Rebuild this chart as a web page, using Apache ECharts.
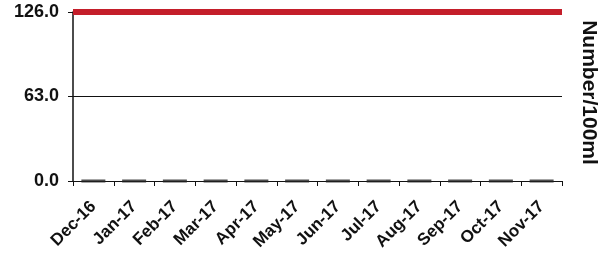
<!DOCTYPE html>
<html>
<head>
<meta charset="utf-8">
<script src="https://cdn.jsdelivr.net/npm/echarts@6/dist/echarts.min.js"></script>
<style>
  html, body { margin: 0; padding: 0; background: #fff; }
  #main { width: 605px; height: 257px; }
</style>
</head>
<body>
<div id="main"></div>
<script>
// 月份
const months = ['Dec-16', 'Jan-17', 'Feb-17', 'Mar-17', 'Apr-17', 'May-17',
  'Jun-17', 'Jul-17', 'Aug-17', 'Sep-17', 'Oct-17', 'Nov-17'];
// 每月检测结果（都为 0）
const counts = [0, 0, 0, 0, 0, 0, 0, 0, 0, 0, 0, 0];
// 限值线
const limit = 126;
// y 轴刻度
const yTicks = [0, 63, 126];

const chart = echarts.init(document.getElementById('main'));

const option = {
  animation: false,
  grid: { left: 73, right: 43, top: 12, bottom: 76, outerBoundsMode: 'none', containLabel: false },
  xAxis: {
    type: 'category',
    data: months,
    boundaryGap: true,
    axisLine: { lineStyle: { color: '#111', width: 1 } },
    axisTick: { show: true, length: 5, alignWithLabel: false, lineStyle: { color: '#111' } },
    axisLabel: {
      rotate: 45,
      color: '#111',
      fontFamily: 'Liberation Sans, Arial',
      fontWeight: 'bold',
      fontSize: 17,
      interval: 0,
      margin: 23
    }
  },
  yAxis: [{
    type: 'value',
    min: yTicks[0],
    max: yTicks[yTicks.length - 1],
    interval: yTicks[1] - yTicks[0],
    axisLine: { show: true, lineStyle: { color: '#111', width: 1.5 } },
    axisTick: { show: true, length: 5, lineStyle: { color: '#111' } },
    splitLine: { show: true, lineStyle: { color: '#111', width: 1.2 } },
    axisLabel: {
      formatter: v => v.toFixed(1),
      color: '#111',
      fontFamily: 'Liberation Sans, Arial',
      fontWeight: 'bold',
      fontSize: 18,
      margin: 14
    }
  }, {
    type: 'value',
    position: 'right',
    min: 0,
    max: 126,
    axisLine: { show: false },
    axisTick: { show: false },
    axisLabel: { show: false },
    splitLine: { show: false },
    name: 'Number/100ml',
    nameLocation: 'middle',
    nameRotate: -90,
    nameGap: 16,
    nameTextStyle: {
      color: '#111',
      fontFamily: 'Liberation Sans, Arial',
      fontWeight: 'bold',
      fontSize: 21,
      padding: [0, 8, 0, 0]
    }
  }],
  series: [{
    type: 'scatter',
    data: counts,
    symbol: 'rect',
    symbolSize: [24, 3],
    itemStyle: { color: '#222' },
    markLine: {
      silent: true,
      symbol: 'none',
      label: { show: false },
      lineStyle: { color: '#c41e2a', width: 6, type: 'solid' },
      data: [{ yAxis: limit }]
    }
  }]
};

chart.setOption(option);
</script>
</body>
</html>
